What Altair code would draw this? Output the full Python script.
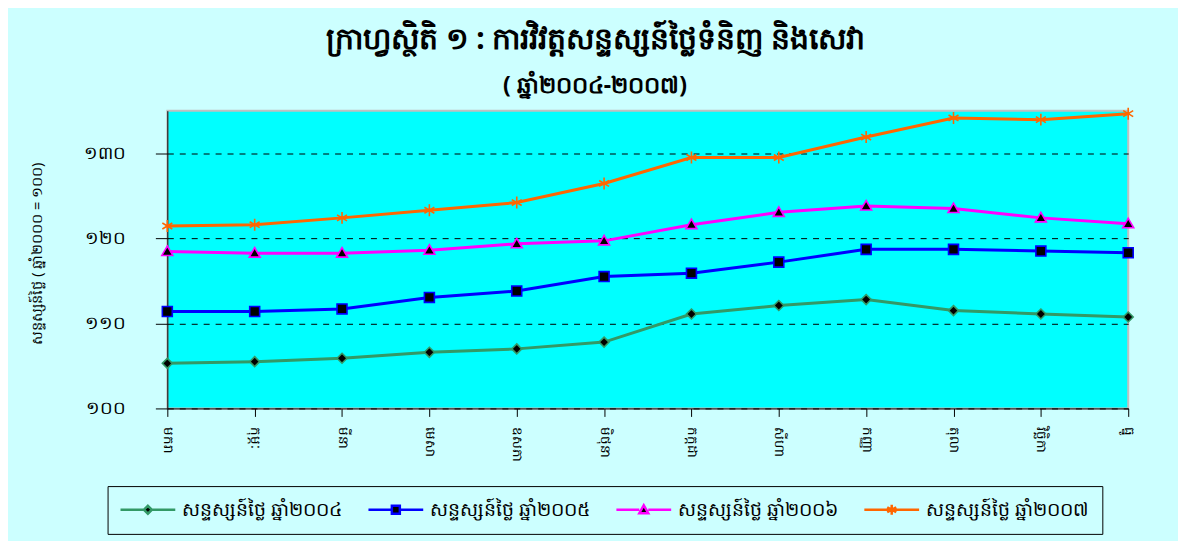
import altair as alt
import pandas as pd

months = ["មករា", "កុម្ភៈ", "មីនា", "មេសា", "ឧសភា", "មិថុនា",
          "កក្កដា", "សីហា", "កញ្ញា", "តុលា", "វិច្ឆិកា", "ធ្នូ"]
series_names = ["សន្ទស្សន៍ថ្លៃ ឆ្នាំ២០០៤", "សន្ទស្សន៍ថ្លៃ ឆ្នាំ២០០៥",
                "សន្ទស្សន៍ថ្លៃ ឆ្នាំ២០០៦", "សន្ទស្សន៍ថ្លៃ ឆ្នាំ២០០៧"]
cpi_2004 = [105.3, 105.5, 105.9, 106.6, 107.0, 107.8, 111.1, 112.1, 112.8, 111.5, 111.1, 110.75]
cpi_2005 = [111.4, 111.4, 111.7, 113.05, 113.8, 115.5, 115.9, 117.2, 118.7, 118.7, 118.5, 118.3]
cpi_2006 = [118.45, 118.25, 118.25, 118.6, 119.35, 119.7, 121.6, 123.05, 123.8, 123.5, 122.4, 121.7]
cpi_2007 = [121.45, 121.6, 122.4, 123.3, 124.2, 126.45, 129.5, 129.5, 131.9, 134.15, 133.95, 134.65]
y_ticks = [100, 110, 120, 130]
y_tick_labels = ["១០០", "១១០", "១២០", "១៣០"]

title_text = "ក្រាហ្វស្ថិតិ ១ : ការវិវត្តសន្ទស្សន៍ថ្លៃទំនិញ  និងសេវា"
subtitle_text = "( ឆ្នាំ២០០៤-២០០៧)"
y_title = "សន្ទស្សន៍ថ្លៃ ( ឆ្នាំ២០០០ = ១០០)"

colors = ["#339966", "#0000ff", "#ff00ff", "#ff6600"]
point_shapes = [
    "M0,-1L1,0L0,1L-1,0Z",
    "M-1,-1H1V1H-1Z",
    "M0,-1.1L1.1,0.8H-1.1Z",
    "M-1,-0.6L1,0.6M-1,0.6L1,-0.6M0,-1.2V1.2",
]
legend_shapes = [
    "M-5.5,0H-0.8M0.8,0H5.5M0,-0.8L0.8,0L0,0.8L-0.8,0Z",
    "M-5.5,0H-0.8M0.8,0H5.5M-0.8,-0.8H0.8V0.8H-0.8Z",
    "M-5.5,0H-0.9M0.9,0H5.5M0,-0.9L0.9,0.7H-0.9Z",
    "M-5.5,0H5.5M-0.9,-0.5L0.9,0.5M-0.9,0.5L0.9,-0.5M0,-1V1",
]

rows = []
for name, vals in zip(series_names, [cpi_2004, cpi_2005, cpi_2006, cpi_2007]):
    for m, v in zip(months, vals):
        rows.append({"month": m, "series": name, "value": v})
df = pd.DataFrame(rows)

label_map = "{" + ",".join(f"'{t}':'{l}'" for t, l in zip(y_ticks, y_tick_labels)) + "}"

FONT = "Noto Sans"

x_enc = alt.X("month:N", sort=months,
              scale=alt.Scale(type="point", padding=0),
              axis=alt.Axis(title=None, labelAngle=90, labelFontSize=13.5, labelColor="black",
                            labelFont=FONT, tickSize=8, tickColor="black", domainColor="black",
                            labelPadding=10, grid=False))
y_enc = alt.Y("value:Q",
              scale=alt.Scale(domain=[100, 135], nice=False, zero=False),
              axis=alt.Axis(values=y_ticks, title=y_title, labelExpr=label_map + "[datum.label]",
                            labelFontSize=18, labelFont=FONT, labelColor="black",
                            tickSize=12, tickColor="black", domainColor="black", labelPadding=30,
                            grid=True, gridColor="black", gridDash=[6, 6], gridWidth=1,
                            titleFont=FONT, titleFontSize=14.5, titleFontWeight="normal",
                            titleAngle=-90, titleX=-123, titleY=143, titleColor="black"))

base = alt.Chart(df)

lines = base.mark_line(strokeWidth=3).encode(
    x=x_enc, y=y_enc,
    color=alt.Color("series:N", sort=series_names,
                    scale=alt.Scale(domain=series_names, range=colors), legend=None),
)

points = base.mark_point(filled=False, fill="black", strokeWidth=1.6, size=100, opacity=1).encode(
    x=x_enc, y=y_enc,
    stroke=alt.Stroke("series:N", sort=series_names,
                      scale=alt.Scale(domain=series_names, range=colors), legend=None),
    shape=alt.Shape("series:N", sort=series_names,
                    scale=alt.Scale(domain=series_names, range=point_shapes), legend=None),
)

legend_props = dict(title=None, orient="none", legendX=-60, legendY=377, direction="horizontal",
                    columns=4, strokeColor="black", padding=14, labelFont=FONT, labelFontSize=19,
                    labelColor="black", labelLimit=400, symbolSize=100, symbolStrokeWidth=2.5,
                    symbolOpacity=1, symbolFillColor="black", symbolOffset=17, labelOffset=25,
                    columnPadding=22, symbolLimit=0)

legend_layer = base.mark_point(filled=False, fill="black", opacity=0, size=100).encode(
    x=x_enc, y=y_enc,
    stroke=alt.Stroke("series:N", sort=series_names,
                      scale=alt.Scale(domain=series_names, range=colors),
                      legend=alt.Legend(**legend_props)),
    shape=alt.Shape("series:N", sort=series_names,
                    scale=alt.Scale(domain=series_names, range=legend_shapes),
                    legend=alt.Legend(**legend_props)),
)

chart = alt.layer(lines, points, legend_layer).resolve_scale(
    shape="independent", stroke="independent"
).properties(
    width=965, height=299,
    padding={"left": 160, "top": 102, "right": 50, "bottom": 132},
    autosize="none",
    title=alt.TitleParams(text=title_text, subtitle=subtitle_text, anchor="middle",
                          frame="group", dx=-53, offset=7, font=FONT, fontSize=30,
                          fontWeight="bold", color="black", subtitleFont=FONT,
                          subtitleFontSize=23, subtitleFontWeight="bold",
                          subtitleColor="black", subtitlePadding=20),
).configure(background="#ccffff").configure_view(
    fill="#00ffff", stroke="#c0c0c0", strokeWidth=2
)

chart.save("out.html", embed_options={"renderer": "svg", "actions": False})
